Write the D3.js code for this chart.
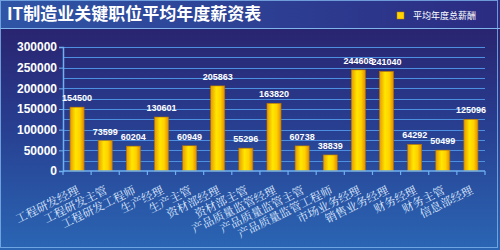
<!DOCTYPE html>
<html>
<head>
<meta charset="utf-8">
<script src="https://cdn.jsdelivr.net/npm/d3@7"></script>
<style>
  body { margin: 0; }
  svg { display: block; }
</style>
</head>
<body>
<div id="chart"></div>
<script>
// data
var categories = ["工程研发经理", "工程研发主管", "工程研发工程师", "生产经理", "生产主管",
    "资材部经理", "资材部主管", "产品质量监管经理", "产品质量监管主管", "产品质量监管工程师",
    "市场业务经理", "销售业务经理", "财务经理", "财务主管", "信息部经理"];
var values = [154500, 73599, 60204, 130601, 60949, 205863, 55296, 163820, 60738, 38839,
    244608, 241040, 64292, 50499, 125096];
var yTicks = [0, 50000, 100000, 150000, 200000, 250000, 300000];
var title = "IT制造业关键职位平均年度薪资表";
var legendLabel = "平均年度总薪酬";

var W = 500, H = 250;
var margin = { top: 47, right: 15, bottom: 79, left: 63 };
var width = W - margin.left - margin.right;
var height = H - margin.top - margin.bottom;

var svg = d3.select("#chart").append("svg")
    .attr("width", W)
    .attr("height", H);

var defs = svg.append("defs");

var bg = defs.append("linearGradient").attr("id", "bg")
    .attr("x1", 0).attr("y1", 0).attr("x2", 0).attr("y2", 1);
bg.append("stop").attr("offset", "0%").attr("stop-color", "#2a1d66");
bg.append("stop").attr("offset", "45%").attr("stop-color", "#283a8c");
bg.append("stop").attr("offset", "100%").attr("stop-color", "#2a66b4");

var head = defs.append("linearGradient").attr("id", "head")
    .attr("x1", 0).attr("y1", 0).attr("x2", 1).attr("y2", 0);
head.append("stop").attr("offset", "0%").attr("stop-color", "#2f55a6");
head.append("stop").attr("offset", "100%").attr("stop-color", "#2b2c82");

var barGrad = defs.append("linearGradient").attr("id", "bar")
    .attr("x1", 0).attr("y1", 0).attr("x2", 1).attr("y2", 0);
barGrad.append("stop").attr("offset", "0%").attr("stop-color", "#e89a00");
barGrad.append("stop").attr("offset", "40%").attr("stop-color", "#ffe600");
barGrad.append("stop").attr("offset", "70%").attr("stop-color", "#ffd000");
barGrad.append("stop").attr("offset", "100%").attr("stop-color", "#e08c00");

// backgrounds
svg.append("rect").attr("width", W).attr("height", H).attr("fill", "url(#bg)");
svg.append("rect").attr("width", W).attr("height", 28).attr("fill", "url(#head)");
svg.append("line").attr("x1", 0).attr("x2", W).attr("y1", 28.5).attr("y2", 28.5)
    .attr("stroke", "#7fb4ec").attr("stroke-width", 1.2);
svg.append("rect").attr("x", 0.5).attr("y", 0.5).attr("width", W - 3).attr("height", H - 3)
    .attr("fill", "none").attr("stroke", "#7fb4ec").attr("stroke-width", 1).attr("opacity", 0.8);

// title + legend
svg.append("text")
    .attr("x", 7).attr("y", 20)
    .attr("fill", "#ffffff")
    .style("font-family", "'Noto Sans CJK SC', sans-serif")
    .style("font-size", "17px")
    .style("font-weight", "bold")
    .text(title);

svg.append("rect").attr("x", 397).attr("y", 12).attr("width", 7).attr("height", 7)
    .attr("fill", "#ffd400").attr("stroke", "#c08000").attr("stroke-width", 0.5);
svg.append("text")
    .attr("x", 413).attr("y", 19)
    .attr("fill", "#ffffff")
    .style("font-family", "'Noto Sans CJK SC', sans-serif")
    .style("font-size", "9px")
    .text(legendLabel);

var g = svg.append("g").attr("transform", "translate(" + margin.left + "," + margin.top + ")");

var x = d3.scaleBand().domain(categories).range([0, width]).paddingInner(0.5).paddingOuter(0.25);
var y = d3.scaleLinear().domain([0, 300000]).range([height, 0]);

// gridlines every 25000
g.selectAll(".grid")
    .data(d3.range(25000, 300001, 25000))
    .enter().append("line")
    .attr("x1", 0).attr("x2", width)
    .attr("y1", function(d) { return Math.round(y(d)) + 0.5; })
    .attr("y2", function(d) { return Math.round(y(d)) + 0.5; })
    .attr("stroke", "#4d8fe0")
    .attr("stroke-width", 1.2);

// y axis
var yAxis = g.append("g")
    .call(d3.axisLeft(y).tickValues(yTicks).tickSize(4).tickFormat(d3.format("d")));
yAxis.select(".domain").attr("stroke", "#6fb0f0").attr("stroke-width", 1.5);
yAxis.selectAll(".tick line").attr("stroke", "#6fb0f0");
yAxis.selectAll("text")
    .attr("fill", "#ffffff")
    .attr("x", -6)
    .style("font-family", "Arial, 'Liberation Sans', sans-serif")
    .style("font-size", "12px")
    .style("font-weight", "bold");

// bars
g.selectAll(".bar")
    .data(values)
    .enter().append("rect")
    .attr("x", function(d, i) { return x(categories[i]); })
    .attr("y", function(d) { return y(d); })
    .attr("width", x.bandwidth())
    .attr("height", function(d) { return height - y(d); })
    .attr("fill", "url(#bar)")
    .attr("stroke", "#b87000")
    .attr("stroke-width", 0.6);

// value labels
g.selectAll(".val")
    .data(values)
    .enter().append("text")
    .attr("x", function(d, i) { return x(categories[i]) + x.bandwidth() / 2; })
    .attr("y", function(d) { return y(d) - 6; })
    .attr("text-anchor", "middle")
    .attr("fill", "#ffffff")
    .style("font-family", "Arial, 'Liberation Sans', sans-serif")
    .style("font-size", "9px")
    .style("font-weight", "bold")
    .text(function(d) { return d; });

// x axis
var step = x.step();
var xAxis = g.append("g").attr("transform", "translate(0," + height + ")");
xAxis.append("line").attr("x1", 0).attr("x2", width)
    .attr("stroke", "#6fb0f0").attr("stroke-width", 1.5);
xAxis.selectAll(".xt")
    .data(d3.range(categories.length + 1))
    .enter().append("line")
    .attr("x1", function(i) { return x(categories[0]) - x.paddingInner() * step / 2 + i * step; })
    .attr("x2", function(i) { return x(categories[0]) - x.paddingInner() * step / 2 + i * step; })
    .attr("y1", 0).attr("y2", 4)
    .attr("stroke", "#6fb0f0").attr("stroke-width", 1.2);

xAxis.selectAll(".xl")
    .data(categories)
    .enter().append("text")
    .attr("transform", function(d) {
        return "translate(" + (x(d) + x.bandwidth() / 2 + 3) + ",22) rotate(-26)";
    })
    .attr("text-anchor", "end")
    .attr("fill", "#dfe9ff")
    .style("font-family", "'Noto Serif CJK SC', 'Noto Sans CJK SC', serif")
    .style("font-size", "11.5px")
    .text(function(d) { return d; });
</script>
</body>
</html>
